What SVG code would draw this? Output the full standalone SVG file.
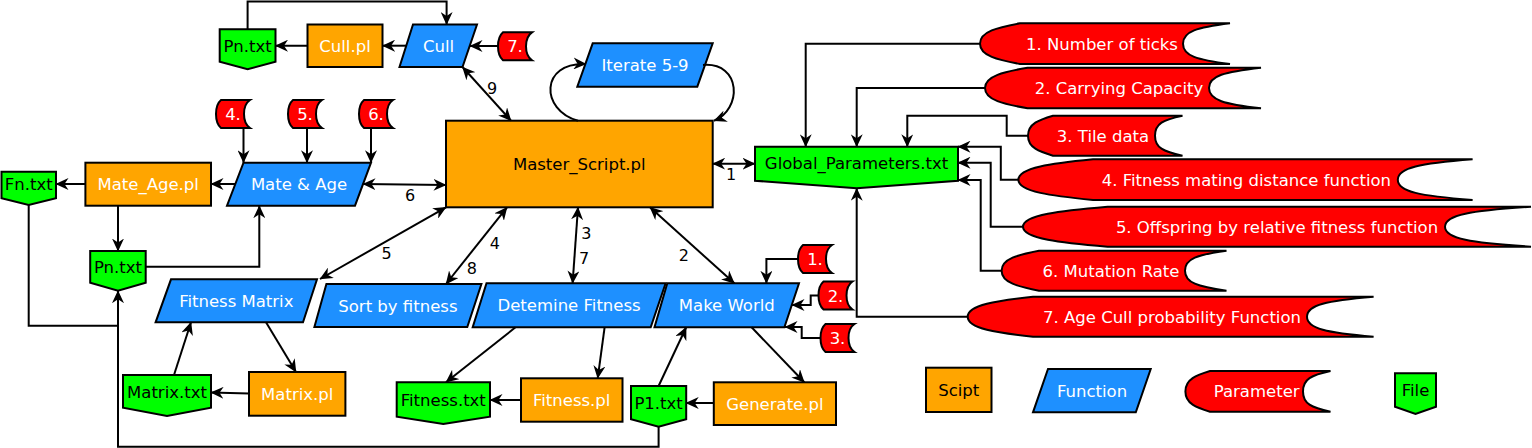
<svg xmlns="http://www.w3.org/2000/svg" width="1532" height="448" viewBox="0 0 1532 448">
<style>
.s{stroke:#000;stroke-width:2}
.o{fill:#FFA500}
.b{fill:#1E90FF}
.r{fill:#FF0000}
.g{fill:#00FF00}
text{font-family:"DejaVu Sans","Noto Sans",sans-serif;font-size:16.5px;text-anchor:middle}
.w{fill:#fff}
.k{fill:#000}
.lbl{font-size:16px;fill:#000}
.c path{fill:none;stroke:#000;stroke-width:2}
</style>
<defs>
<marker id="a" viewBox="0 0 13 12" refX="12.5" refY="6" markerWidth="13" markerHeight="12" markerUnits="userSpaceOnUse" orient="auto-start-reverse"><path d="M0,0 L13,6 L0,12 L4,6 Z" fill="#000"/></marker>
<path id="sp" d="M5,0 L34,0 C29.5,3 28,7 28,14 C28,21 29.5,25 34,28 L5,28 C1.5,25 0,20 0,14 C0,8 1.5,3 5,0Z" fill="#FF0000" stroke="#000" stroke-width="2"/>
</defs>

<g id="pn_top"><path class="g s" d="M219.7,29.3 H275.5 V61.7 L247.6,69.3 L219.7,61.7 Z"/><text class="k" x="247.6" y="51.5">Pn.txt</text></g>
<g id="cull_pl"><rect class="o s" x="307.5" y="24.5" width="75" height="42.5"/><text class="w" x="345" y="51.7">Cull.pl</text></g>
<g id="cull"><polygon class="b s" points="413,24.5 477,24.5 462.5,67 399.5,67"/><text class="w" x="438.5" y="51.7">Cull</text></g>
<g id="p7s"><use href="#sp" x="498" y="32.3"/><text class="w" x="515" y="52.2">7.</text></g>
<g id="iterate"><polygon class="b s" points="592.7,43.3 712.7,43.3 697.3,86.7 577.3,86.7"/><text class="w" x="645" y="71">Iterate 5-9</text></g>
<g id="master"><rect class="o s" x="446" y="120.7" width="266.7" height="86.6"/><text class="k" x="579.3" y="170">Master_Script.pl</text></g>
<g id="global"><path class="g s" d="M755,146.7 H958 V180.7 L856.7,188.3 L755,180.7 Z"/><text class="k" x="856.5" y="169.3">Global_Parameters.txt</text></g>
<g id="p4s"><use href="#sp" x="216" y="100"/><text class="w" x="233" y="120">4.</text></g>
<g id="p5s"><use href="#sp" x="288" y="100"/><text class="w" x="305" y="120">5.</text></g>
<g id="p6s"><use href="#sp" x="359" y="100"/><text class="w" x="376" y="120">6.</text></g>
<g id="mate_age"><polygon class="b s" points="243.5,162.7 371,162.7 355,205.7 227,205.7"/><text class="w" x="299" y="190">Mate &amp; Age</text></g>
<g id="mate_age_pl"><rect class="o s" x="85.4" y="162.7" width="125.6" height="43"/><text class="w" x="148.2" y="190">Mate_Age.pl</text></g>
<g id="fn_txt"><path class="g s" d="M1.5,171.7 H56 V198.3 L28.7,205 L1.5,198.3 Z"/><text class="k" x="28.7" y="190">Fn.txt</text></g>
<g id="pn_left"><path class="g s" d="M90.2,251 H145.7 V282.7 L118,290.7 L90.2,282.7 Z"/><text class="k" x="118" y="273">Pn.txt</text></g>
<g id="fitness_matrix"><polygon class="b s" points="171,279.3 317,279.3 303,322.3 155.6,322.3"/><text class="w" x="236.3" y="306.8">Fitness Matrix</text></g>
<g id="sort_fitness"><polygon class="b s" points="326.4,284 481.4,284 467.3,327 314.4,327"/><text class="w" x="397.9" y="311.5">Sort by fitness</text></g>
<g id="determine_fitness"><polygon class="b s" points="486.5,283.3 665.6,283.3 650.7,327.3 472.7,327.3"/><text class="w" x="569.1" y="311.3">Detemine Fitness</text></g>
<g id="make_world"><polygon class="b s" points="667.3,283.3 799,283.3 784.4,327.3 654.5,327.3"/><text class="w" x="726.8" y="311.3">Make World</text></g>
<g id="p1s"><use href="#sp" x="798" y="245"/><text class="w" x="815" y="265">1.</text></g>
<g id="p2s"><use href="#sp" x="818.5" y="281.5"/><text class="w" x="835.5" y="301.5">2.</text></g>
<g id="p3s"><use href="#sp" x="820.5" y="324"/><text class="w" x="837.5" y="344">3.</text></g>
<g id="matrix_txt"><path class="g s" d="M123,375 H211 V407.7 L167,416 L123,407.7 Z"/><text class="k" x="167" y="397.5">Matrix.txt</text></g>
<g id="matrix_pl"><rect class="o s" x="249" y="372" width="96.4" height="43.7"/><text class="w" x="297.2" y="400">Matrix.pl</text></g>
<g id="fitness_txt"><path class="g s" d="M396.7,382.3 H490 V416.7 L443.3,424 L396.7,416.7 Z"/><text class="k" x="443.3" y="405.5">Fitness.txt</text></g>
<g id="fitness_pl"><rect class="o s" x="521" y="378.3" width="101.5" height="43.4"/><text class="w" x="571.7" y="406">Fitness.pl</text></g>
<g id="p1_txt"><path class="g s" d="M631,386 H686.2 V419.3 L658.6,426.7 L631,419.3 Z"/><text class="k" x="658.6" y="408.7">P1.txt</text></g>
<g id="generate_pl"><rect class="o s" x="713.8" y="382.3" width="122.2" height="42.7"/><text class="w" x="774.9" y="409.7">Generate.pl</text></g>

<g id="param1"><path class="r s" d="M1020,23.3 L1230,23.3 C1197,27.4 1183,31.4 1183,43.7 C1183,55.9 1197,59.9 1230,64 L1020,64 C998,59.9 980,55.9 980,43.7 C980,31.4 998,27.4 1020,23.3Z"/><text class="w" x="1102" y="49.7">1. Number of ticks</text></g>
<g id="param2"><path class="r s" d="M1027.5,67.7 L1261,67.7 C1224.6,71.8 1209,75.8 1209,88 C1209,100.2 1224.6,104.2 1261,108.3 L1027.5,108.3 C1004.1,104.2 985,100.2 985,88 C985,75.8 1004.1,71.8 1027.5,67.7Z"/><text class="w" x="1119" y="94">2. Carrying Capacity</text></g>
<g id="param3"><path class="r s" d="M1053,115.7 L1182.5,115.7 C1163.3,119.7 1155,123.7 1155,135.7 C1155,147.7 1163.3,151.7 1182.5,155.7 L1053,155.7 C1039.3,151.7 1028,147.7 1028,135.7 C1028,123.7 1039.3,119.7 1053,115.7Z"/><text class="w" x="1103" y="141.7">3. Tile data</text></g>
<g id="param4"><path class="r s" d="M1093,159.3 L1472.6,159.3 C1420.2,163.4 1397.8,167.4 1397.8,179.7 C1397.8,191.9 1420.2,195.9 1472.6,200 L1093,200 C1052,195.9 1018.4,191.9 1018.4,179.7 C1018.4,167.4 1052,163.4 1093,159.3Z"/><text class="w" x="1246.4" y="185.7">4. Fitness mating distance function</text></g>
<g id="param5"><path class="r s" d="M1107.6,206.7 L1531,206.7 C1470.8,210.7 1445,214.7 1445,226.7 C1445,238.7 1470.8,242.7 1531,246.7 L1107.6,246.7 C1061.1,242.7 1023,238.7 1023,226.7 C1023,214.7 1061.1,210.7 1107.6,206.7Z"/><text class="w" x="1277" y="232.7">5. Offspring by relative fitness function</text></g>
<g id="param6"><path class="r s" d="M1039,250.7 L1226.5,250.7 C1197.5,254.7 1185,258.7 1185,270.7 C1185,282.7 1197.5,286.7 1226.5,290.7 L1039,290.7 C1018.4,286.7 1001.6,282.7 1001.6,270.7 C1001.6,258.7 1018.4,254.7 1039,250.7Z"/><text class="w" x="1111" y="276.7">6. Mutation Rate</text></g>
<g id="param7"><path class="r s" d="M1033,296.7 L1373.6,296.7 C1327,300.7 1307,304.7 1307,316.7 C1307,328.7 1327,332.7 1373.6,336.7 L1033,336.7 C997.1,332.7 967.7,328.7 967.7,316.7 C967.7,304.7 997.1,300.7 1033,296.7Z"/><text class="w" x="1172" y="322.7">7. Age Cull probability Function</text></g>

<g id="legend_script"><rect class="o s" x="926" y="367.7" width="65.5" height="44.3"/><text class="k" x="958.7" y="396">Scipt</text></g>
<g id="legend_function"><polygon class="b s" points="1048,369 1150.7,369 1135.8,412.3 1033,412.3"/><text class="w" x="1092" y="396.7">Function</text></g>
<g id="legend_parameter"><path class="r s" d="M1210,371 L1330.5,371 C1311.3,375.1 1303,379.2 1303,391.4 C1303,403.6 1311.3,407.6 1330.5,411.7 L1210,411.7 C1196.5,407.6 1185.4,403.6 1185.4,391.4 C1185.4,379.2 1196.5,375.1 1210,371Z"/><text class="w" x="1256.7" y="397.3">Parameter</text></g>
<g id="legend_file"><path class="g s" d="M1395,373.3 H1436 V406.7 L1415.5,414 L1395,406.7 Z"/><text class="k" x="1415.5" y="396">File</text></g>

<g id="connectors" class="c">
<path d="M247.6,29.3 V1.5 H446.6 V24.5" marker-end="url(#a)"/>
<path d="M307.5,45.7 H275.5" marker-end="url(#a)"/>
<path d="M406,45.7 H382.6" marker-end="url(#a)"/>
<path d="M497.6,46 H470" marker-end="url(#a)"/>
<path d="M462.5,67 L511,120.7" marker-start="url(#a)" marker-end="url(#a)"/>
<path d="M243.5,128 V162.7" marker-end="url(#a)"/>
<path d="M307,128 V162.7" marker-end="url(#a)"/>
<path d="M371,128 V162.7" marker-end="url(#a)"/>
<path d="M235.3,184 H211" marker-end="url(#a)"/>
<path d="M85.4,184 H56" marker-end="url(#a)"/>
<path d="M363,184 L446,185" marker-start="url(#a)" marker-end="url(#a)"/>
<path d="M118,205.7 V251" marker-end="url(#a)"/>
<path d="M145.7,266.7 H259.3 V205.7" marker-end="url(#a)"/>
<path d="M28.7,205 V325.7 H118"/>
<path d="M658.6,426.7 V446.7 H118 V290.7" marker-end="url(#a)"/>
<path d="M446,207.3 L320,279" marker-start="url(#a)" marker-end="url(#a)"/>
<path d="M507,207.3 L446,284" marker-start="url(#a)" marker-end="url(#a)"/>
<path d="M578,207.3 L572.6,283.3" marker-start="url(#a)" marker-end="url(#a)"/>
<path d="M650,207.3 L734.4,283.3" marker-start="url(#a)" marker-end="url(#a)"/>
<path d="M712.7,163.7 H755" marker-start="url(#a)" marker-end="url(#a)"/>
<path d="M578,120.7 C540,110 540,62 586,64" marker-end="url(#a)"/>
<path d="M703,65 C742,62 742,110 714,120.7" marker-end="url(#a)"/>
<path d="M980,43.7 H805.7 V146.7" marker-end="url(#a)"/>
<path d="M985,88 H856.7 V146.7" marker-end="url(#a)"/>
<path d="M1028,135.7 H1006.7 V115.7 H907.3 V146.7" marker-end="url(#a)"/>
<path d="M1018.4,179.7 H1000.8 V146.7 H958" marker-end="url(#a)"/>
<path d="M1023,226.7 H990.7 V162.7 H958" marker-end="url(#a)"/>
<path d="M1001.6,270.7 H980.7 V180 H958" marker-end="url(#a)"/>
<path d="M967.7,316.7 H856.7 V188.3" marker-end="url(#a)"/>
<path d="M798,259 H766.4 V283.3" marker-end="url(#a)"/>
<path d="M818.5,295.5 H810.7 V305 H792" marker-end="url(#a)"/>
<path d="M820.5,338 H801.7 V327 H785" marker-end="url(#a)"/>
<path d="M266,322.3 L296,372" marker-end="url(#a)"/>
<path d="M249,393.5 L211,392.5" marker-end="url(#a)"/>
<path d="M174,375 L191,322.3" marker-end="url(#a)"/>
<path d="M515.5,327.3 L446,382.3" marker-end="url(#a)"/>
<path d="M604.6,327.3 L597.7,378.3" marker-end="url(#a)"/>
<path d="M521,400 H490" marker-end="url(#a)"/>
<path d="M751.6,327.3 L804.3,382.3" marker-end="url(#a)"/>
<path d="M713.8,403 H686.2" marker-end="url(#a)"/>
<path d="M658.6,386 L686.2,327.3" marker-end="url(#a)"/>
</g>
<g id="connector_labels">
<text class="lbl" x="492" y="94">9</text>
<text class="lbl" x="410" y="201">6</text>
<text class="lbl" x="386.7" y="259">5</text>
<text class="lbl" x="494.8" y="249">4</text>
<text class="lbl" x="471.8" y="274">8</text>
<text class="lbl" x="586.4" y="239">3</text>
<text class="lbl" x="584" y="264">7</text>
<text class="lbl" x="683.8" y="261">2</text>
<text class="lbl" x="731" y="180">1</text>
</g>
</svg>
